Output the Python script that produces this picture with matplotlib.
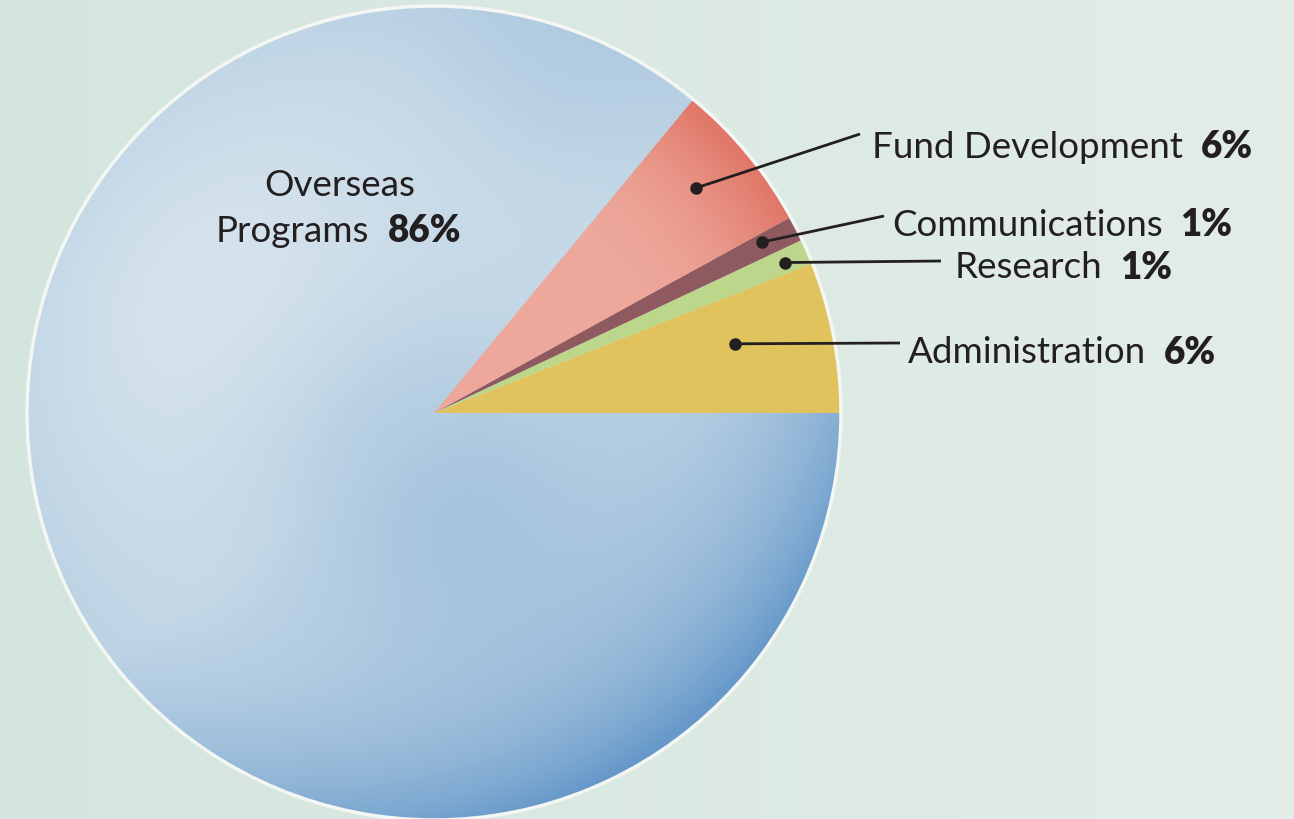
import numpy as np
import matplotlib
matplotlib.use("Agg")
import matplotlib.pyplot as plt
from matplotlib.patches import Circle

# ---- data ----
categories = ["Administration", "Research", "Communications", "Fund Development", "Overseas\nPrograms"]
values = [6, 1, 1, 6, 86]
pct_labels = ["6%", "1%", "1%", "6%", "86%"]

# ---- style ----
W, H = 1294, 820
colors = ["#e0c35c", "#bcd68c", "#8e5a60", "#e8978c", "#c3d7e6"]
bg = "#dde9e3"
plt.rcParams['font.family'] = ['Lato', 'DejaVu Sans']

fig = plt.figure(figsize=(W / 100, H / 100), dpi=100)
fig.patch.set_facecolor(bg)
ax = fig.add_axes([0, 0, 1, 1])

cx, cy_pix, R = 434, 414, 406
cy = H - cy_pix

# background soft gradient
yy, xx = np.mgrid[0:H, 0:W]
bgt = np.clip(xx / W, 0, 1)
c_left = np.array([0.83, 0.90, 0.87])
c_right = np.array([0.89, 0.93, 0.91])
bgimg = c_left[None, None, :] * (1 - bgt[..., None]) + c_right[None, None, :] * bgt[..., None]
ax.imshow(bgimg, extent=[0, W, 0, H], origin="upper", zorder=0)

wedges, _ = ax.pie(values, colors=colors, startangle=0, counterclock=True,
                   center=(cx, cy), radius=R, wedgeprops=dict(linewidth=0, zorder=2))
ax.set_xlim(0, W)
ax.set_ylim(0, H)
ax.axis("off")

# watercolor-like shading for the large blue wedge
dx = xx - cx
dy_down = yy - cy_pix
d = np.sqrt(dx ** 2 + dy_down ** 2) / R
lr = np.clip((dx * 0.6 + dy_down * 0.8) / R, 0, 1)
t = 0.14 + 0.40 * d ** 4 * (0.3 + lr) + 0.38 * lr
t += 0.25 * np.exp(-((xx - 420) ** 2 + (yy - 470) ** 2) / (2 * 120 ** 2))
t -= 0.14 * np.exp(-((xx - 200) ** 2 + (yy - 300) ** 2) / (2 * 170 ** 2))
t += 0.10 * np.exp(-((xx - 560) ** 2 + (yy - 60) ** 2) / (2 * 90 ** 2))
t = np.clip(t, 0, 1)
light = np.array([0.85, 0.90, 0.93])
dark = np.array([0.40, 0.60, 0.79])
blue = light[None, None, :] * (1 - t[..., None]) + dark[None, None, :] * t[..., None]
im = ax.imshow(blue, extent=[0, W, 0, H], origin="upper", zorder=3)
im.set_clip_path(wedges[-1])

# rim shading for the salmon wedge
tf = np.clip((d - 0.55) / 0.45, 0, 1) ** 2
sal_l = np.array([0.93, 0.66, 0.61])
sal_d = np.array([0.88, 0.46, 0.40])
sal = sal_l[None, None, :] * (1 - tf[..., None]) + sal_d[None, None, :] * tf[..., None]
im2 = ax.imshow(sal, extent=[0, W, 0, H], origin="upper", zorder=3)
im2.set_clip_path(wedges[3])

# paper rim
ax.add_patch(Circle((cx, cy), R + 1, fill=False, edgecolor="#f4f6f4", linewidth=2.5, zorder=4))

ax.set_xlim(0, W)
ax.set_ylim(0, H)

renderer = fig.canvas.get_renderer()
fs = 26.5
txt_color = "#231f20"

# label anchor positions (pixel coords: left x, middle y) and dot placement
label_pos = [(908, 353), (955, 268), (892, 225), (872, 147)]
ang_frac = [0.60, 0.45, 0.65, 0.55]
rad_frac = [0.76, 0.94, 0.91, 0.85]
line_off = [(-8, -9), (-14, -6), (-8, -8), (-12, -12)]

for i in range(4):
    w = wedges[i]
    ang = np.deg2rad(w.theta1 + ang_frac[i] * (w.theta2 - w.theta1))
    px = cx + rad_frac[i] * R * np.cos(ang)
    py = cy + rad_frac[i] * R * np.sin(ang)
    lx, ly_pix = label_pos[i]
    ly = H - ly_pix
    ex = lx + line_off[i][0]
    ey = ly - line_off[i][1]
    ax.plot([px, ex], [py, ey], color=txt_color, lw=2, zorder=6, solid_capstyle="butt")
    ax.plot([px], [py], "o", color=txt_color, ms=8, zorder=7)
    tt = ax.text(lx, ly, categories[i], fontsize=fs, color=txt_color, ha="left", va="center", zorder=8)
    bb = tt.get_window_extent(renderer)
    x1 = ax.transData.inverted().transform((bb.x1, bb.y0))[0]
    ax.text(x1 + 18, ly, pct_labels[i], fontsize=fs, color=txt_color, fontweight="heavy",
            ha="left", va="center", zorder=8)

# Overseas programs label
ov1, ov2 = categories[4].split("\n")
ax.text(340, H - 186, ov1, fontsize=fs, color=txt_color, ha="center", va="center", zorder=8)
tt = ax.text(216, H - 231, ov2, fontsize=fs, color=txt_color, ha="left", va="center", zorder=8)
bb = tt.get_window_extent(renderer)
x1 = ax.transData.inverted().transform((bb.x1, bb.y0))[0]
ax.text(x1 + 18, H - 231, pct_labels[4], fontsize=fs, color=txt_color, fontweight="heavy",
        ha="left", va="center", zorder=8)

fig.savefig("out.png", dpi=100, facecolor=bg)
